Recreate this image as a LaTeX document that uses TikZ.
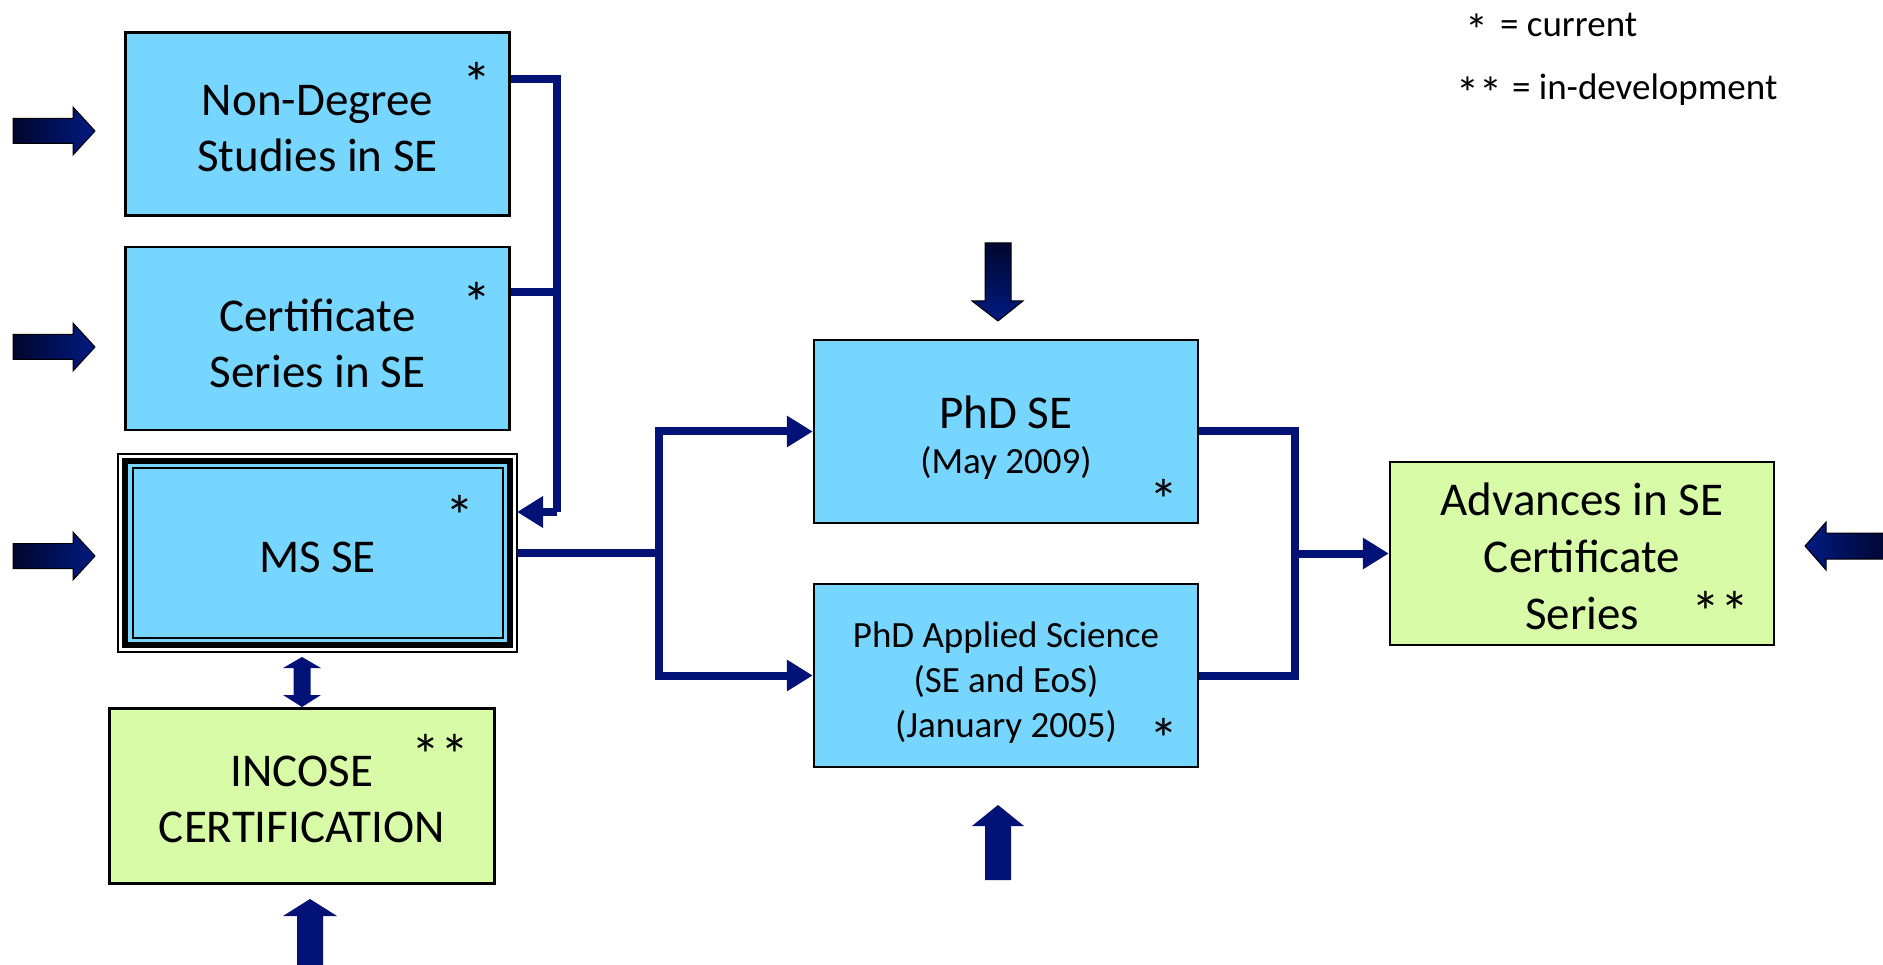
\documentclass[tikz,border=0pt]{standalone}
\usepackage{fontspec}
\setmainfont{Carlito}
\usetikzlibrary{arrows.meta}
\definecolor{boxblue}{RGB}{118,214,255}
\definecolor{boxgreen}{RGB}{216,251,167}
\definecolor{navy}{RGB}{2,18,118}
\definecolor{arrdark}{RGB}{0,6,45}
\definecolor{arrblue}{RGB}{0,26,130}
\newcommand{\legstar}[1]{\raisebox{-10pt}{\fontsize{46}{50}\selectfont #1}}
\begin{document}
\begin{tikzpicture}[x=1pt,y=-1pt,
  box/.style={draw=black, line width=2.5pt, minimum width=384pt, minimum height=183pt,
    inner sep=0pt},
  bluebox/.style={box, fill=boxblue},
  greenbox/.style={box, fill=boxgreen},
  boxtext/.style={align=center, inner sep=0pt, font=\fontsize{47}{56}\selectfont},
  star/.style={font=\fontsize{58}{60}\selectfont, inner sep=0pt, anchor=base},
  legend/.style={font=\fontsize{37}{44}\selectfont, inner sep=0pt, anchor=base west},
  conn/.style={draw=navy, line width=8pt},
  connarrow/.style={conn, -{Triangle[length=26pt,width=30pt]}},
  blockarrow/.style={draw=black, line width=1pt, line join=miter},
  solidarrow/.style={fill=navy}
]
\useasboundingbox (0,0) rectangle (1883,965);

% boxes
\node[bluebox] (nd) at (317.5,124) {};
\node[boxtext] (ndt) at ([yshift=-5pt]nd.center) {Non-Degree\\Studies in SE};
\node[bluebox] (cert) at (317.5,338.5) {};
\node[boxtext] (certt) at ([yshift=-4.5pt]cert.center) {Certificate\\Series in SE};

% MS SE framed box
\fill[black] (122,458) rectangle (513,648);
\fill[boxblue] (128,464) rectangle (507,642);
\draw[black, line width=2pt] (132.5,468.5) rectangle (502.5,637.5);
\node[draw=black, line width=1.2pt, minimum width=399pt, minimum height=198pt,
  inner sep=0pt, outer sep=0pt] (ms) at (317.5,553) {};
\node[boxtext] (mst) at ([yshift=-4pt]ms.center) {MS SE};

\node[greenbox, minimum width=385pt, minimum height=175pt] (inc) at (302,796) {};
\node[boxtext] (inct) at ([yshift=-3.5pt]inc.center) {INCOSE\\CERTIFICATION};

\node[bluebox] (phd) at (1006,431.5) {};
\node[boxtext] (phdt) at ([yshift=-6pt]phd.center) {PhD SE\\[-11pt]{\fontsize{37}{44}\selectfont (May 2009)}};

\node[bluebox] (app) at (1006,675.5) {};
\node[boxtext, font=\fontsize{37}{45}\selectfont] (appt) at ([yshift=-7pt]app.center) {PhD Applied Science\\(SE and EoS)\\(January 2005)};

\node[greenbox] (adv) at (1582,553.5) {};
\node[boxtext, font=\fontsize{47}{57}\selectfont] (advt) at ([yshift=-3pt]adv.center) {Advances in SE\\Certificate\\Series};

% stars
\node[star] (s1) at (477,104) {*};
\node[star] (s2) at (477,324) {*};
\node[star] (s3) at (460,536) {*};
\node[star] (s4) at (1164,520) {*};
\node[star] (s5) at (1164,759) {*};
\node[star] (s6) at (440,775) {**};
\node[star] (s7) at (1720,632) {**};

% legend
\node[legend] (l1) at (1465,37) {\legstar{*}\hspace{12pt}= current};
\node[legend] (l2) at (1456,100) {\legstar{**}\hspace{10pt}= in-development};

% connectors
\coordinate (b1) at (557,79);
\coordinate (b2) at (557,512);
\draw[conn] ([yshift=45pt]nd.east) -- (b1) -- (b2);
\draw[connarrow] (b2) -- ([yshift=41pt]ms.east);
\draw[conn] ([yshift=46.5pt]cert.east) -- ([yshift=46.5pt]cert.east -| b1);
\coordinate (sp) at (659,553);
\draw[conn] (ms.east) -- (sp);
\draw[connarrow] (sp) |- (phd.west);
\draw[connarrow] (sp) |- (app.west);
\coordinate (mg) at (1295,553.5);
\draw[conn] (phd.east) -| (mg);
\draw[conn] (app.east) -| (mg);
\draw[connarrow] (mg) -- (adv.west);

% left block arrows
\foreach \c in {131,347,556}{
  \shade[left color=arrdark, right color=arrblue]
    (13,\c-12.5) -- (73,\c-12.5) -- (73,\c-24) -- (95,\c) -- (73,\c+24) -- (73,\c+12.5) -- (13,\c+12.5) -- cycle;
  \draw[blockarrow]
    (13,\c-12.5) -- (73,\c-12.5) -- (73,\c-24) -- (95,\c) -- (73,\c+24) -- (73,\c+12.5) -- (13,\c+12.5) -- cycle;
}
% right block arrow
\shade[left color=arrblue, right color=arrdark]
  (1805,546) -- (1826,522) -- (1826,533) -- (1890,533) -- (1890,559) -- (1826,559) -- (1826,570) -- cycle;
\draw[blockarrow]
  (1890,533) -- (1826,533) -- (1826,522) -- (1805,546) -- (1826,570) -- (1826,559) -- (1890,559);
% top arrow above PhD SE
\shade[top color=arrdark, bottom color=arrblue]
  (985,243) -- (1011,243) -- (1011,301) -- (1023,301) -- (998,321) -- (972,301) -- (985,301) -- cycle;
\draw[blockarrow]
  (985,243) -- (1011,243) -- (1011,301) -- (1023,301) -- (998,321) -- (972,301) -- (985,301) -- cycle;
% bottom arrow below PhD Applied
\fill[solidarrow]
  (998,805) -- (1024,826) -- (1011,826) -- (1011,880) -- (985,880) -- (985,826) -- (972,826) -- cycle;
% arrow below INCOSE
\fill[solidarrow]
  (310,899) -- (337,916) -- (323,916) -- (323,970) -- (297,970) -- (297,916) -- (283,916) -- cycle;
% double arrow between MS SE and INCOSE
\fill[solidarrow]
  (302,657) -- (321,668) -- (310.5,668) -- (310.5,695) -- (321,695) -- (302,707) -- (283,695) -- (293.5,695) -- (293.5,668) -- (283,668) -- cycle;
\end{tikzpicture}
\end{document}
